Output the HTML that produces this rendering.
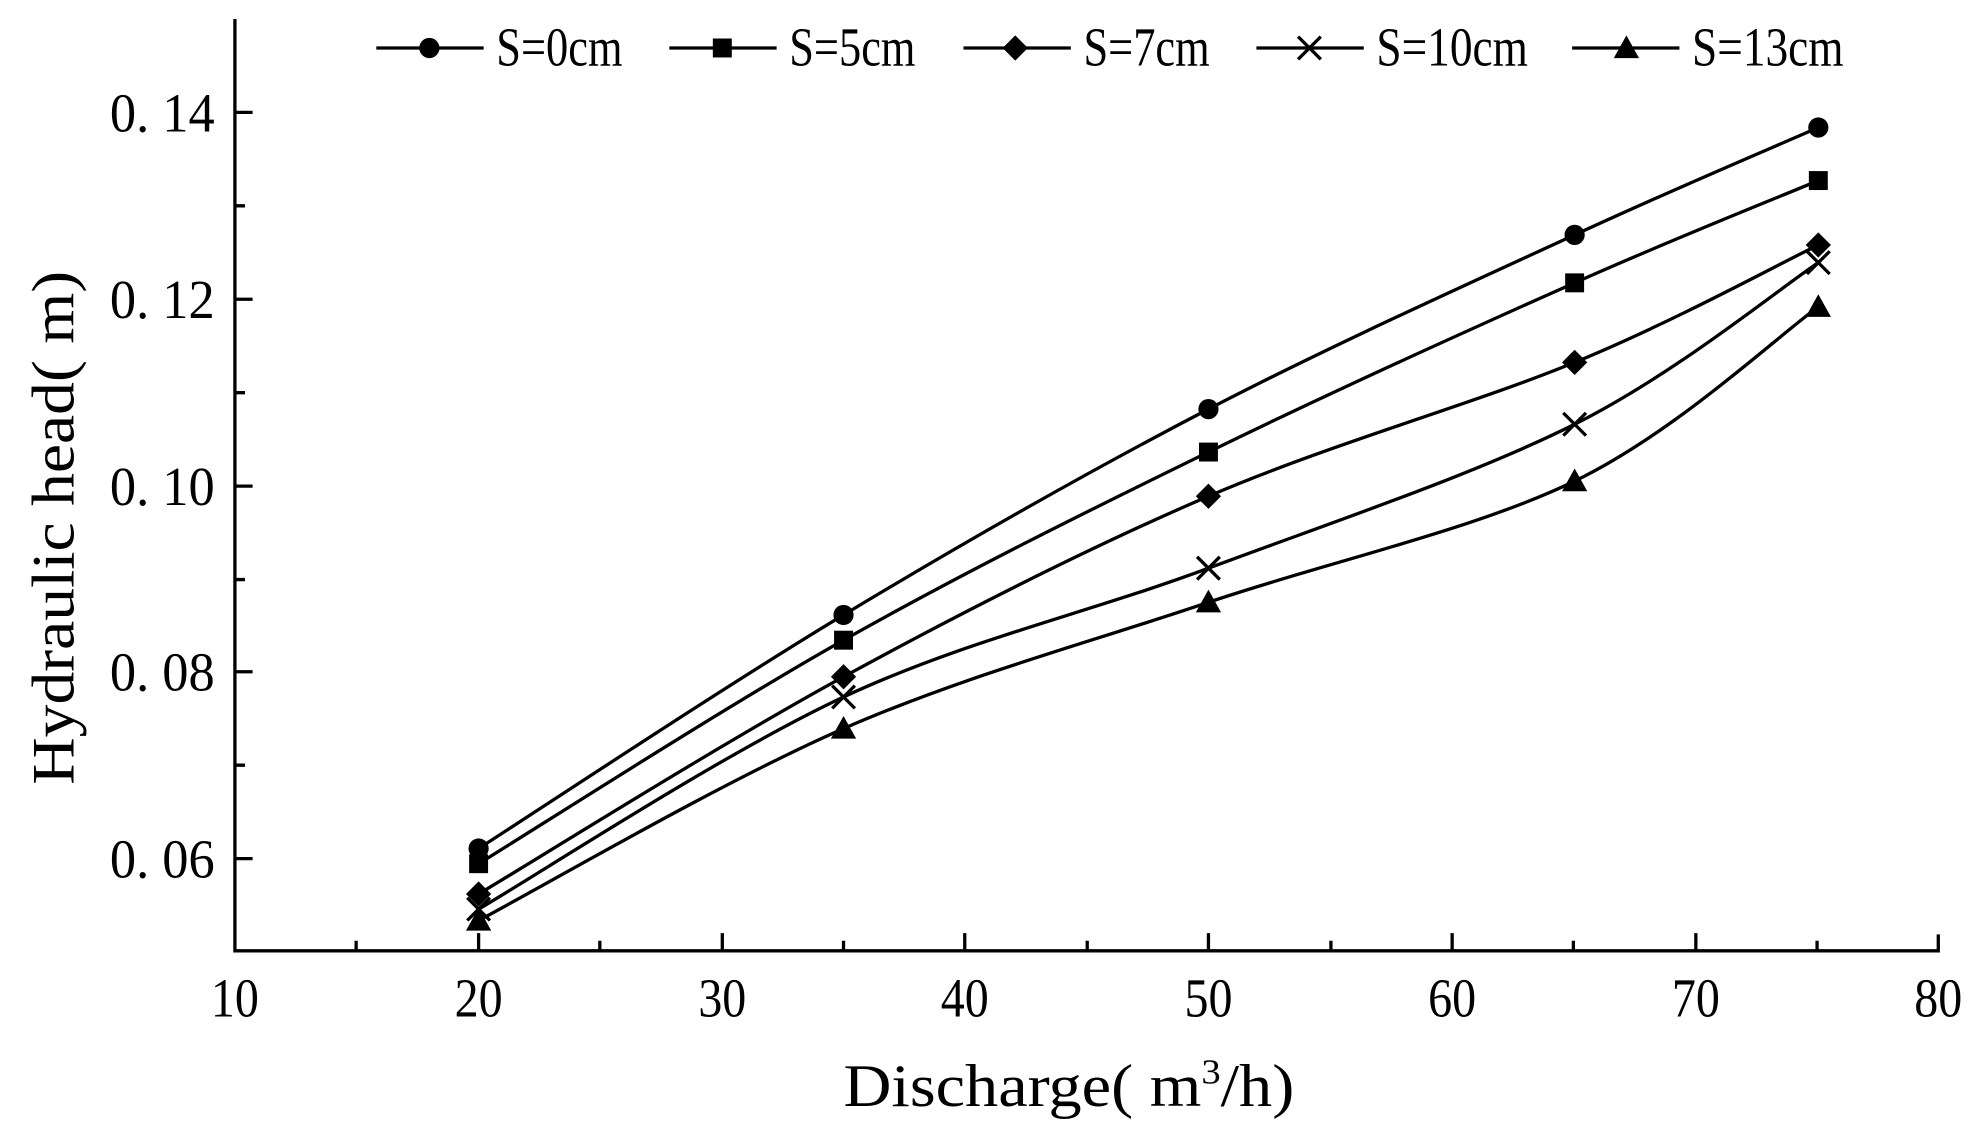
<!DOCTYPE html>
<html><head><meta charset="utf-8"><style>html,body{margin:0;padding:0;background:#fff}svg{display:block}</style></head>
<body>
<svg id="s" xmlns="http://www.w3.org/2000/svg" width="1980" height="1144" viewBox="0 0 1568 906">
<rect width="1568" height="906" fill="#fff"/>
<g stroke="#000" stroke-width="2.6" fill="none">
<path d="M186,15 V753 H1535 V740"/>
<path d="M186,89 h14 M186,237 h14 M186,385 h14 M186,532 h14 M186,680 h14 M186,163 h8 M186,311 h8 M186,459 h8 M186,606 h8"/>
<path d="M379,753 v-14 M572,753 v-14 M764,753 v-14 M957,753 v-14 M1150,753 v-14 M1343,753 v-14 M282,753 v-8 M475,753 v-8 M668,753 v-8 M861,753 v-8 M1054,753 v-8 M1246,753 v-8 M1439,753 v-8"/>
</g>
<g font-family="Liberation Serif, serif" font-size="44" text-anchor="end">
<text x="170" y="104" textLength="83" lengthAdjust="spacingAndGlyphs">0. 14</text>
<text x="170" y="252" textLength="83" lengthAdjust="spacingAndGlyphs">0. 12</text>
<text x="170" y="400" textLength="83" lengthAdjust="spacingAndGlyphs">0. 10</text>
<text x="170" y="547" textLength="83" lengthAdjust="spacingAndGlyphs">0. 08</text>
<text x="170" y="695" textLength="83" lengthAdjust="spacingAndGlyphs">0. 06</text>
</g>
<g font-family="Liberation Serif, serif" font-size="44" text-anchor="middle">
<text x="186" y="805" textLength="38" lengthAdjust="spacingAndGlyphs">10</text><text x="379" y="805" textLength="38" lengthAdjust="spacingAndGlyphs">20</text><text x="572" y="805" textLength="38" lengthAdjust="spacingAndGlyphs">30</text><text x="764" y="805" textLength="38" lengthAdjust="spacingAndGlyphs">40</text><text x="957" y="805" textLength="38" lengthAdjust="spacingAndGlyphs">50</text><text x="1150" y="805" textLength="38" lengthAdjust="spacingAndGlyphs">60</text><text x="1343" y="805" textLength="38" lengthAdjust="spacingAndGlyphs">70</text><text x="1535" y="805" textLength="38" lengthAdjust="spacingAndGlyphs">80</text>
</g>
<text x="668" y="876" font-family="Liberation Serif, serif" font-size="48" textLength="357" lengthAdjust="spacingAndGlyphs">Discharge( m<tspan font-size="28" dy="-18">3</tspan><tspan dy="18">/h)</tspan></text>
<text transform="translate(58,418) rotate(-90)" text-anchor="middle" font-family="Liberation Serif, serif" font-size="48" textLength="407" lengthAdjust="spacingAndGlyphs">Hydraulic head( m)</text>
<g id="series" stroke="#000" stroke-width="2.6" fill="none"></g>
<g id="marks"></g>
<g font-family="Liberation Serif, serif" font-size="44" stroke="#000" stroke-width="2.6">
<line x1="298" y1="38" x2="383" y2="38"/><line x1="530" y1="38" x2="615" y2="38"/><line x1="763" y1="38" x2="848" y2="38"/><line x1="995" y1="38" x2="1080" y2="38"/><line x1="1245" y1="38" x2="1330" y2="38"/>
<g stroke="none">
<text x="393" y="52" textLength="100" lengthAdjust="spacingAndGlyphs">S=0cm</text>
<text x="625" y="52" textLength="100" lengthAdjust="spacingAndGlyphs">S=5cm</text>
<text x="858" y="52" textLength="100" lengthAdjust="spacingAndGlyphs">S=7cm</text>
<text x="1090" y="52" textLength="120" lengthAdjust="spacingAndGlyphs">S=10cm</text>
<text x="1340" y="52" textLength="120" lengthAdjust="spacingAndGlyphs">S=13cm</text>
</g></g>
<g id="legm"></g>
</svg>
<script>
var NS="http://www.w3.org/2000/svg";
var xs=[379,668,957,1247,1440];
var ys=[[672,487,324,186,101],[684,507,358,224,143],[708,536,393,287,194],[720,552,450,336,208],[729,577,477,381,243]];
function el(t,a,p){var e=document.createElementNS(NS,t);for(var k in a)e.setAttribute(k,a[k]);p.appendChild(e);return e;}
function mk(type,x,y,p){
 if(type==0)el("circle",{cx:x,cy:y,r:8,fill:"#000"},p);
 else if(type==1)el("rect",{x:x-7.5,y:y-7.5,width:15,height:15,fill:"#000"},p);
 else if(type==2)el("polygon",{points:(x)+","+(y-10)+" "+(x+10)+","+y+" "+x+","+(y+10)+" "+(x-10)+","+y,fill:"#000"},p);
 else if(type==3)el("path",{d:"M"+(x-9)+","+(y-9)+"L"+(x+9)+","+(y+9)+"M"+(x+9)+","+(y-9)+"L"+(x-9)+","+(y+9),stroke:"#000","stroke-width":2.6,fill:"none"},p);
 else el("polygon",{points:x+","+(y-10)+" "+(x+10)+","+(y+8)+" "+(x-10)+","+(y+8),fill:"#000"},p);
}
var sg=document.getElementById("series"),mg=document.getElementById("marks"),lg=document.getElementById("legm");
ys.forEach(function(Y,s){
 var P=xs.map(function(x,i){return [x,Y[i]];});
 var d="M"+P[0][0]+","+P[0][1];
 for(var i=0;i<P.length-1;i++){
  var p0=P[Math.max(i-1,0)],p1=P[i],p2=P[i+1],p3=P[Math.min(i+2,P.length-1)];
  var c1=[p1[0]+(p2[0]-p0[0])/6,p1[1]+(p2[1]-p0[1])/6],c2=[p2[0]-(p3[0]-p1[0])/6,p2[1]-(p3[1]-p1[1])/6];
  d+="C"+c1+" "+c2+" "+p2;
 }
 el("path",{d:d},sg);
 P.forEach(function(p){mk(s,p[0],p[1],mg);});
});
[340,572,804,1037,1288].forEach(function(x,i){mk(i,x,38,lg);});
</script>
</body></html>
